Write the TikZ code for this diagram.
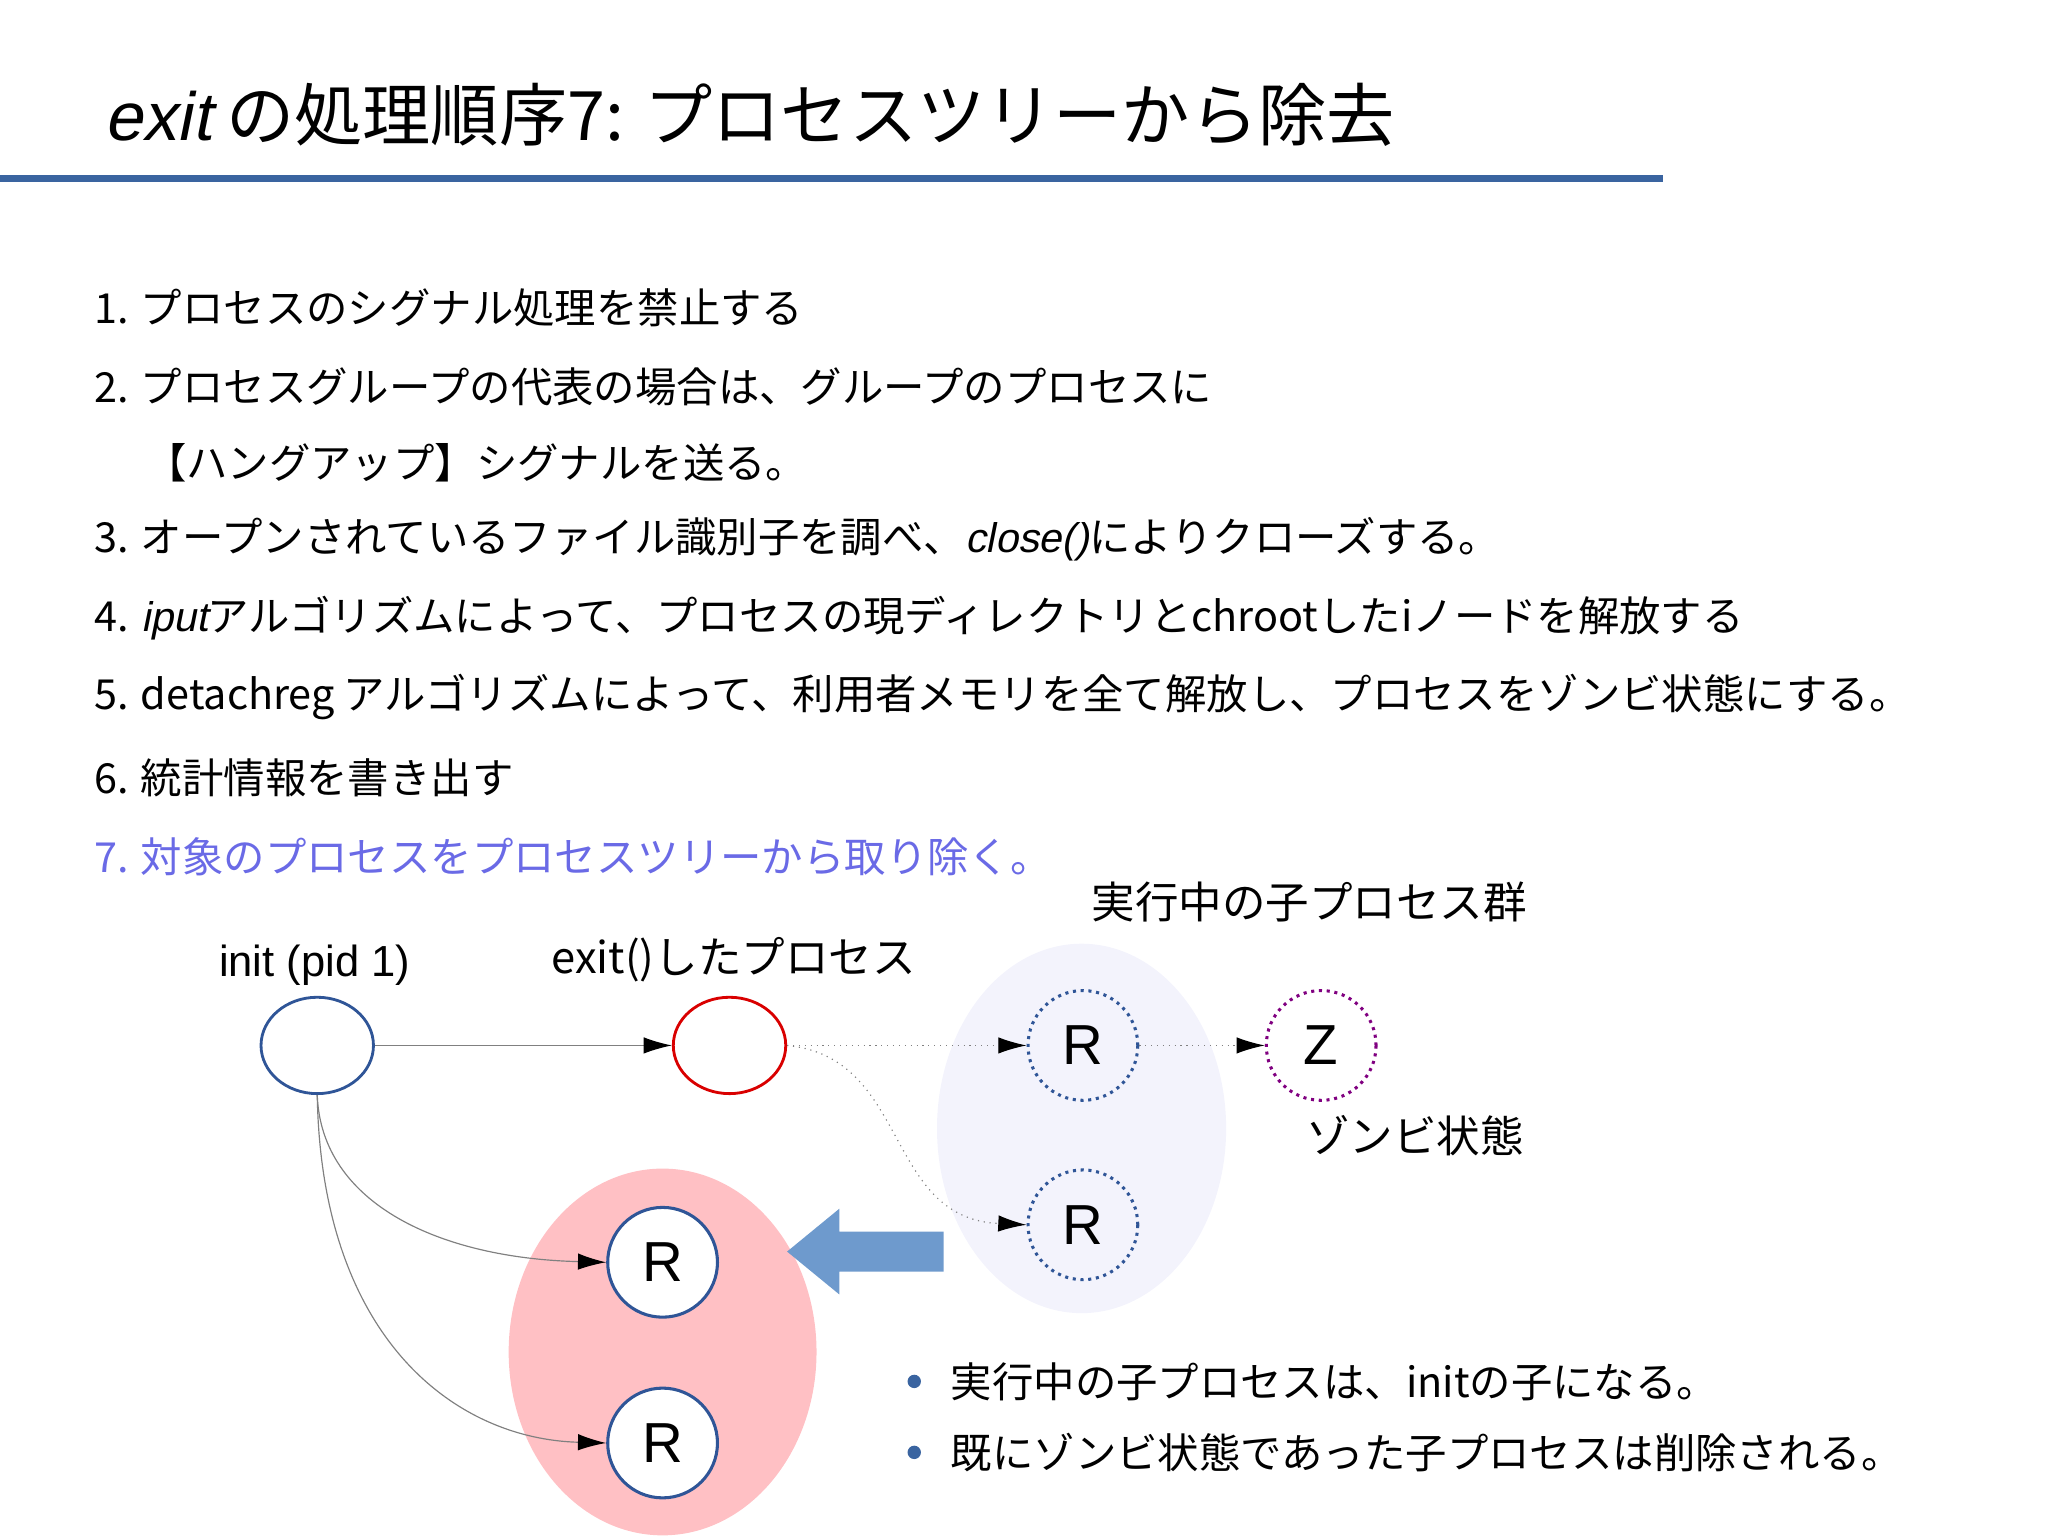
\documentclass[tikz,border=0pt]{standalone}
\usepackage{fontspec}
\setmainfont{Noto Sans CJK JP}
\newfontfamily\lat{Liberation Sans}
\newfontfamily\itf[FakeSlant=0.2]{Liberation Sans}
\usetikzlibrary{arrows.meta,shapes.geometric}
\definecolor{nblue}{HTML}{2F5597}
\definecolor{tblue}{HTML}{3A64A0}
\definecolor{violet7}{HTML}{6A6AE6}
\definecolor{lav}{HTML}{F3F3FC}
\definecolor{pinkb}{HTML}{FFC0C4}
\definecolor{barrow}{HTML}{6E9ACD}
\begin{document}
\begin{tikzpicture}[x=0.02cm,y=-0.02cm,
  li/.style={anchor=west,font=\fontsize{17.6}{20}\selectfont,inner sep=0},
  lab/.style={font=\fontsize{18.5}{22}\selectfont,inner sep=0},
  rn/.style={circle,minimum size=82*0.02cm,inner sep=0,font=\lat\fontsize{24}{26}\selectfont},
  en/.style={ellipse,minimum width=84*0.02cm,minimum height=72*0.02cm,inner sep=0,line width=1.2pt},
  con/.style={draw=gray,line width=0.5pt,-{Latex[length=12pt,width=7pt,black]}},
  dcon/.style={con,dotted}]
\useasboundingbox (0,0) rectangle (1530,1147);
\node[anchor=base west,inner sep=0,font=\fontsize{29}{32}\selectfont] (title) at (78,105) {{\itf exit} の処理順序7: プロセスツリーから除去};
\fill[tblue] (0,131) rectangle (1242,136);
\node[li] (l1) at (70,230) {1. プロセスのシグナル処理を禁止する};
\node[li] (l2) at (70,289) {2. プロセスグループの代表の場合は、グループのプロセスに};
\node[li] (l2b) at (108,346) {【ハングアップ】シグナルを送る。};
\node[li] (l3) at (70,403) {3. オープンされているファイル識別子を調べ、{\itf close()}によりクローズする。};
\node[li] (l4) at (70,462) {4. {\itf iput}アルゴリズムによって、プロセスの現ディレクトリとchrootしたiノードを解放する};
\node[li] (l5) at (70,521) {5. detachreg アルゴリズムによって、利用者メモリを全て解放し、プロセスをゾンビ状態にする。};
\node[li] (l6) at (70,581) {6. 統計情報を書き出す};
\node[li,text=violet7] (l7) at (70,640) {7. 対象のプロセスをプロセスツリーから取り除く。};
% groups
\fill[lav] (808,843) ellipse [x radius=108,y radius=138];
\fill[pinkb] (495,1010) ellipse [x radius=115,y radius=137];
% nodes
\node[en,draw=nblue] (init) at (237,781) {};
\node[en,draw=red!85!black] (ex) at (545,781) {};
\node[rn,draw=nblue,dotted,line width=1.3pt] (r1) at (809,781) {R};
\node[rn,draw=nblue,dotted,line width=1.3pt] (r2) at (809,915) {R};
\node[rn,draw=violet,dotted,line width=1.3pt] (z) at (987,781) {Z};
\node[rn,draw=nblue,line width=1.3pt,fill=white] (r3) at (495,943) {R};
\node[rn,draw=nblue,line width=1.3pt,fill=white] (r4) at (495,1078) {R};
% connectors
\draw[con] (init) -- (ex);
\draw[dcon] (ex) -- (r1);
\draw[dcon] (ex.east) .. controls (680,790) and (660,910) .. (r2.west);
\draw[dcon] (r1) -- (z);
\draw[con] (init.south) .. controls (240,900) and (330,940) .. (r3.west);
\draw[con] (init.south) .. controls (240,1000) and (340,1075) .. (r4.west);
% big arrow
\fill[barrow] (705,920) -- (627,920) -- (627,903) -- (588,935) -- (627,967) -- (627,950) -- (705,950) -- cycle;
% labels
\node[lab,font=\lat\fontsize{18.5}{22}\selectfont] (linit) at (235,721) {init (pid 1)};
\node[lab] (lexit) at (548,717) {exit()したプロセス};
\node[lab] (lgrp) at (978,674) {実行中の子プロセス群};
\node[lab] (lzom) at (1057,848) {ゾンビ状態};
\fill[tblue] (683,1032) circle (5);
\fill[tblue] (683,1085) circle (5);
\node[li] (b1) at (710,1032) {実行中の子プロセスは、initの子になる。};
\node[li] (b2) at (710,1085) {既にゾンビ状態であった子プロセスは削除される。};
\end{tikzpicture}
\end{document}
